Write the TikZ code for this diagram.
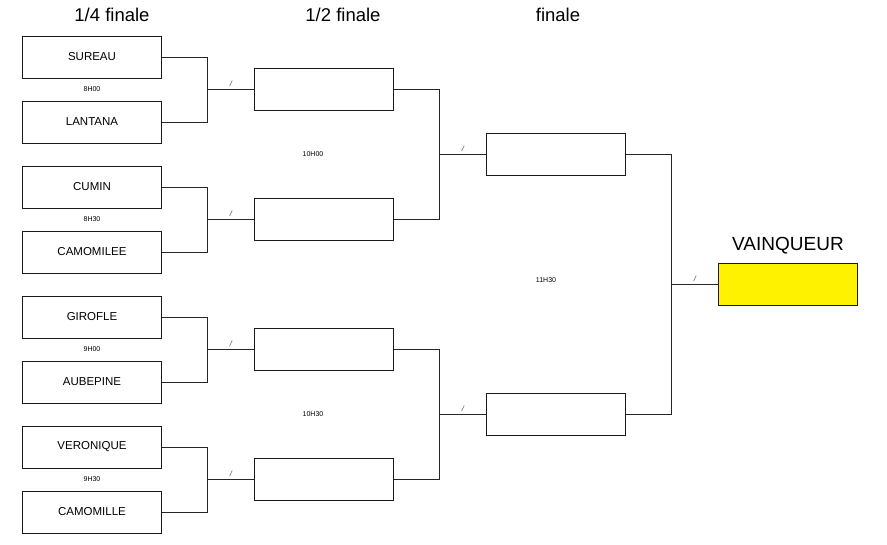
\documentclass[tikz,border=0pt]{standalone}
\usepackage{fontspec}
\setmainfont{Liberation Sans}
\usetikzlibrary{positioning,calc}

\begin{document}
\begin{tikzpicture}[
  x=1pt, y=-1pt,
  node distance=23pt and 46pt,
  box/.style={draw=black!90, line width=1pt, minimum width=139pt,
              minimum height=42pt, inner sep=0pt, outer sep=0pt,
              font=\fontsize{11.5}{13}\selectfont},
  winbox/.style={box, fill=yellow},
  link/.style={draw=black!85, line width=1pt},
  slash/.style={midway, above=-1pt, font=\itshape\fontsize{7.5}{8}\selectfont, text=black!75},
  hour/.style={font=\fontsize{7}{8}\selectfont},
  title/.style={font=\fontsize{18.5}{20}\selectfont}
]
\useasboundingbox (0,0) rectangle (887,544);

\node[title] (t1) at (112,15) {1/4 finale};
\node[title] (t2) at (343,15) {1/2 finale};
\node[title] (t3) at (558,15) {finale};

\node[box] (q1) at (92,57) {SUREAU};
\node[box, below=of q1] (q2) {LANTANA};
\node[box, below=of q2] (q3) {CUMIN};
\node[box, below=of q3] (q4) {CAMOMILEE};
\node[box, below=of q4] (q5) {GIROFLE};
\node[box, below=of q5] (q6) {AUBEPINE};
\node[box, below=of q6] (q7) {VERONIQUE};
\node[box, below=of q7] (q8) {CAMOMILLE};

\node[hour] (h1) at ($(q1.south)!0.5!(q2.north)$) {8H00};
\node[hour] (h2) at ($(q3.south)!0.5!(q4.north)$) {8H30};
\node[hour] (h3) at ($(q5.south)!0.5!(q6.north)$) {9H00};
\node[hour] (h4) at ($(q7.south)!0.5!(q8.north)$) {9H30};

\coordinate[right=of $(q1.east)!0.5!(q2.east)$] (j1);
\coordinate[right=of $(q3.east)!0.5!(q4.east)$] (j2);
\coordinate[right=of $(q5.east)!0.5!(q6.east)$] (j3);
\coordinate[right=of $(q7.east)!0.5!(q8.east)$] (j4);

\node[box, right=47pt of j1] (s1) {};
\node[box, right=47pt of j2] (s2) {};
\node[box, right=47pt of j3] (s3) {};
\node[box, right=47pt of j4] (s4) {};

\draw[link] (q1.east) -| (j1) |- (q2.east);
\draw[link] (q3.east) -| (j2) |- (q4.east);
\draw[link] (q5.east) -| (j3) |- (q6.east);
\draw[link] (q7.east) -| (j4) |- (q8.east);
\draw[link] (j1) -- node[slash] {/} (s1);
\draw[link] (j2) -- node[slash] {/} (s2);
\draw[link] (j3) -- node[slash] {/} (s3);
\draw[link] (j4) -- node[slash] {/} (s4);

\node[hour] (h5) at ($(s1.south)!0.5!(s2.north)+(-11,0)$) {10H00};
\node[hour] (h6) at ($(s3.south)!0.5!(s4.north)+(-11,0)$) {10H30};

\coordinate[right=of $(s1.east)!0.5!(s2.east)$] (k1);
\coordinate[right=of $(s3.east)!0.5!(s4.east)$] (k2);

\node[box, right=47pt of k1] (f1) {};
\node[box, right=47pt of k2] (f2) {};

\draw[link] (s1.east) -| (k1) |- (s2.east);
\draw[link] (s3.east) -| (k2) |- (s4.east);
\draw[link] (k1) -- node[slash] {/} (f1);
\draw[link] (k2) -- node[slash] {/} (f2);

\node[hour] (h7) at ($(f1.south)!0.5!(f2.north)+(-10,-4)$) {11H30};

\coordinate[right=of $(f1.east)!0.5!(f2.east)$] (w1);
\node[winbox, right=47pt of w1] (win) {};
\node[title, font=\fontsize{19}{21}\selectfont, above=6pt of win] (vq) {VAINQUEUR};

\draw[link] (f1.east) -| (w1) |- (f2.east);
\draw[link] (w1) -- node[slash] {/} (win);

\end{tikzpicture}
\end{document}
